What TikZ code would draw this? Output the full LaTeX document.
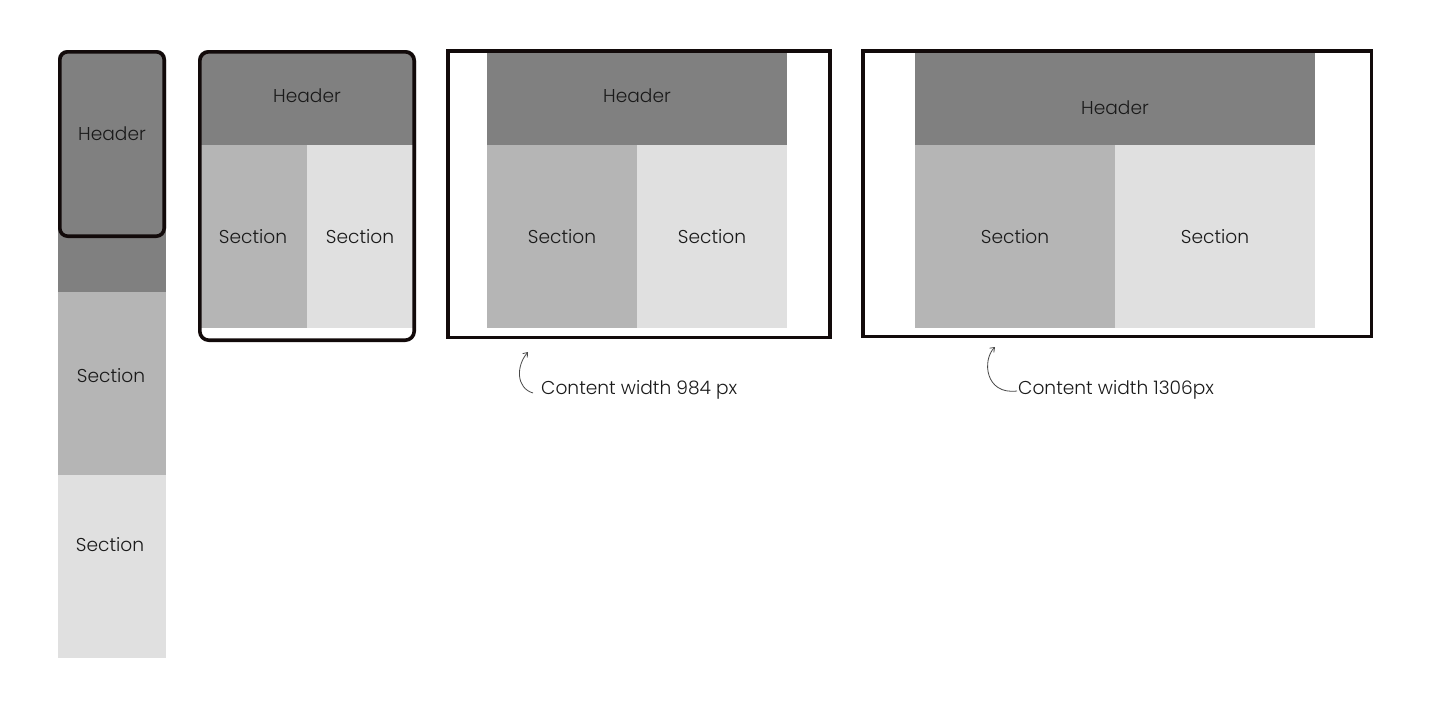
\documentclass[tikz,border=0pt]{standalone}
\usepackage{fontspec}
\setmainfont{Poppins}[UprightFont={* Light}]
\usetikzlibrary{arrows.meta}
\definecolor{dark}{HTML}{808080}
\definecolor{mid}{HTML}{B5B5B5}
\definecolor{light}{HTML}{E0E0E0}
\definecolor{frame}{HTML}{120A0A}
\definecolor{ink}{HTML}{1A1A1A}
\tikzset{
  lbl/.style={font=\fontsize{18.6}{21}\selectfont, text=ink, inner sep=0pt},
  framebox/.style={draw=frame, line width=3.6pt},
  note/.style={draw=ink!80, line width=0.8pt, -{Straight Barb[length=4pt,width=6pt]}}
}
\begin{document}
\begin{tikzpicture}[x=1pt,y=-1pt]
\useasboundingbox (0,0) rectangle (1444,704);
% column 1
\fill[dark, rounded corners=9pt] (58,50) rectangle (166,238);
\fill[dark] (58,200) rectangle (166,292);
\fill[mid] (58,292) rectangle (166,475);
\fill[light] (58,475) rectangle (166,658);
\draw[framebox, rounded corners=8pt] (59.8,51.8) rectangle (164.2,236.2);
\node[lbl] (h1) at (112,134) {Header};
\node[lbl] (s1a) at (111,376) {Section};
\node[lbl] (s1b) at (110,545) {Section};
% column 2
\fill[dark, rounded corners=10pt] (198,50) rectangle (416,170);
\fill[mid] (198,145) rectangle (307,328);
\fill[light] (307,145) rectangle (416,328);
\draw[framebox, rounded corners=9pt] (199.8,51.8) rectangle (414.2,340.2);
\node[lbl] (h2) at (307,96) {Header};
\node[lbl] (s2a) at (253,237) {Section};
\node[lbl] (s2b) at (360,237) {Section};
% column 3
\fill[dark] (487,50) rectangle (787,145);
\fill[mid] (487,145) rectangle (637,328);
\fill[light] (637,145) rectangle (787,328);
\draw[framebox] (448,51) rectangle (830,337.5);
\node[lbl] (h3) at (637,96) {Header};
\node[lbl] (s3a) at (562,237) {Section};
\node[lbl] (s3b) at (712,237) {Section};
% column 4
\fill[dark] (915,50) rectangle (1315,145);
\fill[mid] (915,145) rectangle (1115,328);
\fill[light] (1115,145) rectangle (1315,328);
\draw[framebox] (863,51) rectangle (1371.5,336.5);
\node[lbl] (h4) at (1115,108) {Header};
\node[lbl] (s4a) at (1015,237) {Section};
\node[lbl] (s4b) at (1215,237) {Section};
% annotations
\node[lbl, anchor=west] (n3) at (541,390) {Content width 984 px};
\coordinate (t3) at (528,352);
\draw[note] (n3.west) ++(-8,3) .. controls (516,388) and (516,366) .. (t3);
\node[lbl, anchor=west] (n4) at (1018,390) {Content width 1306px};
\coordinate (t4) at (995,347);
\draw[note] (n4.west) ++(-1,1) .. controls (985,395) and (982,360) .. (t4);
\end{tikzpicture}
\end{document}
